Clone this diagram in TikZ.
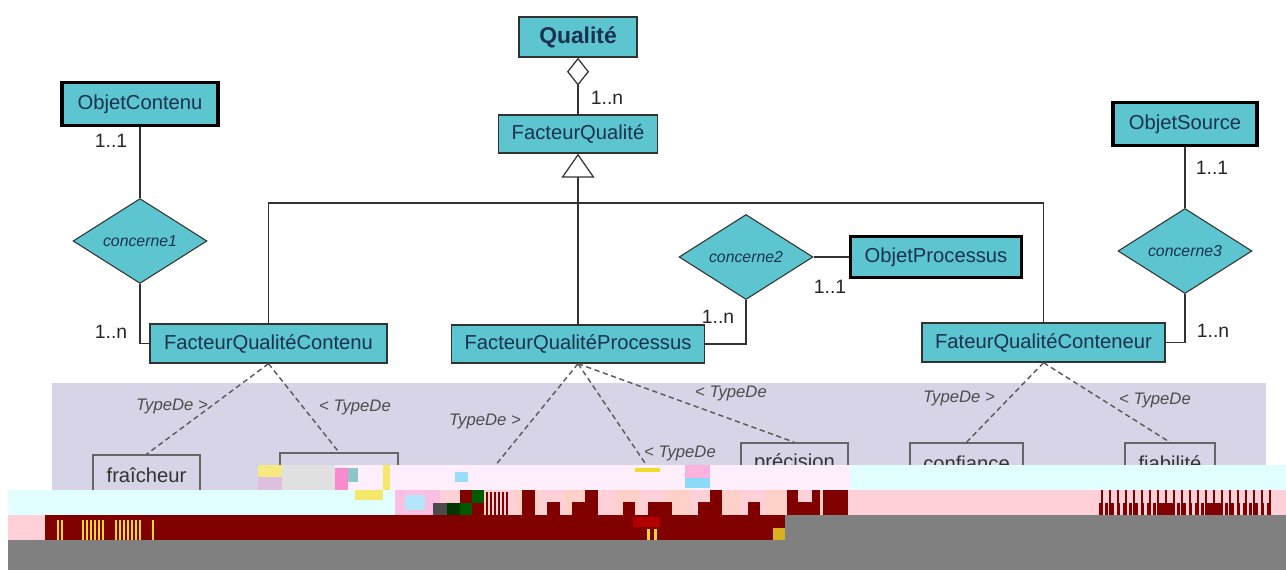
\documentclass[tikz,border=0pt]{standalone}
\usepackage{fontspec}
\setmainfont{Liberation Sans}
\usetikzlibrary{shapes.geometric,arrows.meta}
\definecolor{boxfill}{RGB}{92,197,207}
\definecolor{boxtext}{RGB}{25,50,80}
\definecolor{panel}{RGB}{214,212,230}
\definecolor{linec}{RGB}{50,50,50}
\definecolor{dred}{RGB}{128,0,0}
\definecolor{lcyan}{RGB}{226,255,255}
\definecolor{lpink}{RGB}{255,238,252}
\definecolor{peach}{RGB}{255,208,200}
\definecolor{pinkb}{RGB}{255,208,216}
\definecolor{grayb}{RGB}{128,128,128}
\definecolor{yel}{RGB}{240,220,40}
\definecolor{dgreen}{RGB}{0,90,0}
\tikzset{
 cls/.style={draw=linec, line width=0.8pt, fill=boxfill, text=boxtext, font=\fontsize{11.5}{13}\selectfont, inner sep=0pt},
 obj/.style={cls, line width=2pt, draw=black},
 rel/.style={diamond, draw=linec, line width=0.6pt, fill=boxfill, text=boxtext, font=\fontsize{9}{10}\selectfont\itshape, inner sep=0pt, minimum width=2.68cm},
 leaf/.style={draw=black!60, line width=0.8pt, text=black!80, font=\fontsize{11.5}{13}\selectfont, inner sep=0pt, minimum height=0.8cm},
 conn/.style={draw=linec, line width=0.7pt},
 typ/.style={draw=black!65, dash pattern=on 3pt off 2pt, line width=0.8pt},
 mult/.style={font=\fontsize{11}{12}\selectfont, text=black!85, inner sep=0pt},
 tlab/.style={font=\fontsize{9.5}{11}\selectfont\itshape, text=black!70, inner sep=0pt},
}
\begin{document}
\begin{tikzpicture}[x=0.02cm,y=-0.02cm]
\useasboundingbox (0,0) rectangle (1286,570);
\fill[white] (0,0) rectangle (1286,570);
% panel
\fill[panel] (52,383) rectangle (1266,570);

% class boxes
\node[cls, font=\fontsize{13}{15}\selectfont\bfseries, minimum width=2.36cm, minimum height=0.8cm] (q) at (578,37) {Qualité};
\node[cls, minimum width=3.18cm, minimum height=0.76cm] (fq) at (578,134) {FacteurQualité};
\node[obj, minimum width=3.12cm, minimum height=0.86cm] (oc) at (140,104) {ObjetContenu};
\node[obj, minimum width=2.88cm, minimum height=0.86cm] (os) at (1185,124) {ObjetSource};
\node[obj, minimum width=3.42cm, minimum height=0.82cm] (op) at (936,257) {ObjetProcessus};
\node[cls, minimum width=4.74cm, minimum height=0.78cm] (fqc) at (268.5,343.5) {FacteurQualitéContenu};
\node[cls, minimum width=5.06cm, minimum height=0.76cm] (fqp) at (578,344) {FacteurQualitéProcessus};
\node[cls, minimum width=4.86cm, minimum height=0.78cm] (fqn) at (1043.5,342.5) {FateurQualitéConteneur};

% relationship diamonds
\node[rel, minimum height=1.0cm] (c1) at (140,241) {concerne1};
\node[rel, minimum height=0.96cm] (c2) at (746,257) {concerne2};
\node[rel, minimum height=1.0cm] (c3) at (1185,251) {concerne3};

% aggregation and generalisation
\draw[conn, -{Diamond[open, fill=white, length=0.56cm, width=0.44cm, line width=0.7pt]}] (fq.north) -- (q.south);
\coordinate (J) at (578,203);
\draw[conn, -{Triangle[open, fill=white, length=0.48cm, width=0.66cm, line width=0.7pt]}] (J) -- (fq.south);
\draw[conn] (fqp.north) -- (J);
\draw[conn] (fqc.north) |- (J);
\draw[conn] (fqn.north) |- (J);

% associations
\draw[conn] (oc.south) -- (c1.north);
\draw[conn] (c1.south) |- (fqc.west);
\draw[conn] (c2.east) -- (op.west);
\draw[conn] (c2.south) |- (fqp.east);
\draw[conn] (os.south) -- (c3.north);
\draw[conn] (c3.south) |- (fqn.east);

% multiplicities
\node[mult] (m1) at (607,98) {1..n};
\node[mult] (m2) at (111,141) {1..1};
\node[mult] (m3) at (111,332) {1..n};
\node[mult] (m4) at (830,287) {1..1};
\node[mult] (m5) at (718,317) {1..n};
\node[mult] (m6) at (1212,168) {1..1};
\node[mult] (m7) at (1213,331) {1..n};

% leaf boxes
\node[leaf, minimum width=2.14cm] (fr) at (146.5,475) {fraîcheur};
\node[leaf, minimum width=2.36cm] (ex) at (339,473) {};
\node[leaf, minimum width=2.14cm] (pr) at (794.5,463) {précision};
\node[leaf, minimum width=2.26cm] (cf) at (966.5,463) {confiance};
\node[leaf, minimum width=1.8cm] (fi) at (1170,463) {fiabilité};
\coordinate (h1) at (490,472);
\coordinate (h2) at (651,472);

% TypeDe links
\draw[typ] (fqc.south) -- (fr.north);
\draw[typ] (fqc.south) -- (ex.north);
\draw[typ] (fqp.south) -- (h1);
\draw[typ] (fqp.south) -- (h2);
\draw[typ] (fqp.south) -- (pr.north);
\draw[typ] (fqn.south) -- (cf.north);
\draw[typ] (fqn.south) -- (fi.north);
\node[tlab] (t1) at (172,406) {TypeDe >};
\node[tlab] (t2) at (355,407) {< TypeDe};
\node[tlab] (t3) at (485,421) {TypeDe >};
\node[tlab] (t4) at (680,453) {< TypeDe};
\node[tlab] (t5) at (731,393) {< TypeDe};
\node[tlab] (t6) at (959,398) {TypeDe >};
\node[tlab] (t7) at (1155,400) {< TypeDe};

% ---- damaged lower part of the image ----
% row A
\fill[lpink] (258,465) rectangle (1286,490);
\fill[yel!60!white] (258,465) rectangle (282,477);
\fill[violet!25!white] (258,477) rectangle (282,490);
\fill[black!12] (282,465) rectangle (335,490);
\fill[magenta!45!white] (335,468) rectangle (348,490);
\fill[teal!45!white] (348,468) rectangle (358,482);
\fill[yel!70!white] (383,465) rectangle (390,490);
\fill[lcyan] (850,465) rectangle (1286,490);
\fill[cyan!40!white] (455,472) rectangle (468,482);
\fill[yel] (635,468) rectangle (660,472);
\fill[magenta!30!white] (685,465) rectangle (710,478);
\fill[cyan!45!white] (685,478) rectangle (710,488);
% row B
\fill[lcyan] (8,490) rectangle (395,515);
\fill[yel!70!white] (355,490) rectangle (383,500);
\fill[magenta!25!white] (395,490) rectangle (440,515);
\fill[cyan!30!white] (405,495) rectangle (425,510);
\fill[peach] (440,490) rectangle (850,515);
\foreach \x in {440,490,540,590,640,690,740,790,840}
  \fill[pinkb] (\x,490) rectangle ++(25,25);
\fill[black!70] (433,503) rectangle (447,515);
\fill[dgreen!60!black] (447,503) rectangle (460,515);
\fill[dred] (460,490) rectangle (472,503);
\fill[dgreen] (472,490) rectangle (484,503);
\fill[dgreen] (460,503) rectangle (472,515);
\fill[dred] (472,503) rectangle (484,515);
\foreach \x in {486,490,...,506} \fill[dred] (\x,492) rectangle ++(2,23);
\foreach \x/\w/\t in {522/13/0,547/13/1,572/13/1,585/13/0,623/12/1,648/24/1,698/12/1,710/12/0,748/12/1,787/11/0,798/14/1,812/8/0,823/25/0}
  \fill[dred] (\x,490+12.5*\t) rectangle ++(\w,25-12.5*\t);
\fill[pinkb] (850,490) rectangle (1286,515);
\foreach \x in {1101,1109,...,1269} \fill[dred] (\x,490) rectangle ++(2,25);
\foreach \x in {1099,1105,...,1269} \fill[dred] (\x,503) rectangle ++(3,12);
\fill[dred] (1160,503) rectangle (1172,515);
\fill[dred] (1210,503) rectangle (1222,515);
% row C
\fill[dred] (8,515) rectangle (785,540);
\fill[pinkb] (8,515) rectangle (45,540);
\foreach \x in {57,61,82,86,90,94,98,102,115,119,123,127,131,135,139,152}
  \fill[yel] (\x,520) rectangle ++(2,20);
\fill[red!70!black] (633,517) rectangle (660,527);
\fill[yel] (647,529) rectangle (650,540);
\fill[yel] (654,529) rectangle (657,540);
\fill[yel!80!dred] (773,528) rectangle (785,540);
\fill[grayb] (785,515) rectangle (1286,540);
% row D
\fill[grayb] (8,540) rectangle (1286,570);
\end{tikzpicture}
\end{document}
